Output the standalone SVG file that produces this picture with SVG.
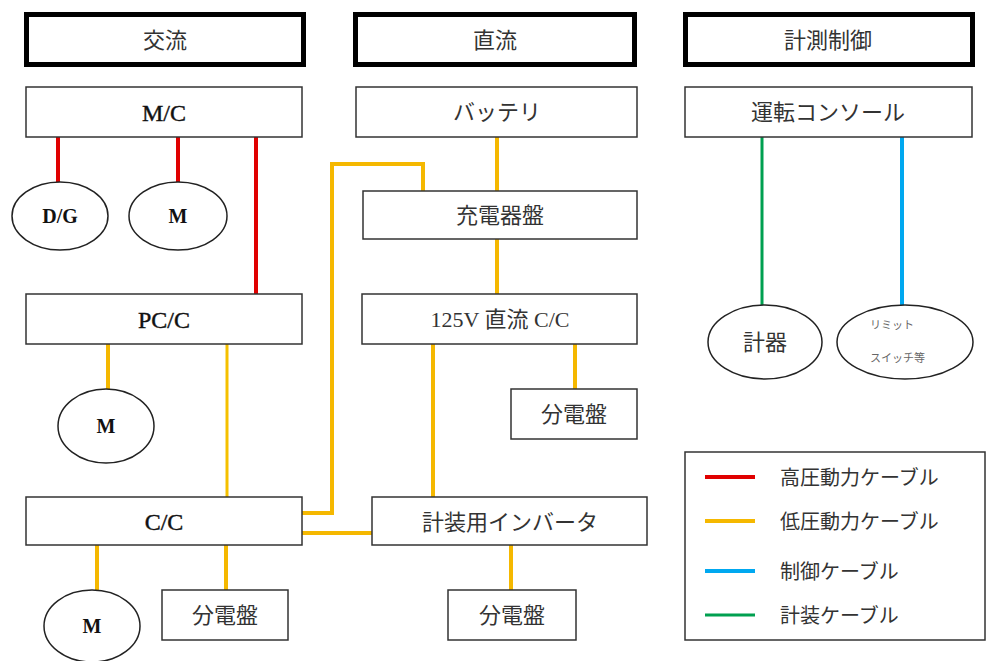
<svg xmlns="http://www.w3.org/2000/svg" width="987" height="661" viewBox="0 0 987 661">
<style>
.hdr{fill:#fff;stroke:#000;stroke-width:5}
.box{fill:#fff;stroke:#333;stroke-width:1.5}
.ell{fill:#fff;stroke:#222;stroke-width:1.5}
.t{font-family:"Liberation Serif","Noto Sans CJK JP",serif;fill:#333;text-anchor:middle;font-size:22px}
.e{font-family:"Liberation Serif",serif;fill:#111;stroke:#111;stroke-width:0.4;text-anchor:middle;font-size:24px}
.b{font-family:"Liberation Serif",serif;fill:#111;text-anchor:middle;font-weight:bold;font-size:20px}
.s{font-family:"Liberation Serif","Noto Sans CJK JP",serif;fill:#666;font-size:11px}
.lg{font-family:"Liberation Serif","Noto Sans CJK JP",serif;fill:#333;font-size:20px}
.r{stroke:#e00000;stroke-width:4;fill:none}
.y{stroke:#f5b800;stroke-width:4;fill:none}
.yt{stroke:#f5c000;stroke-width:3;fill:none}
.bl{stroke:#00a8f0;stroke-width:4;fill:none}
.g{stroke:#00a050;stroke-width:3;fill:none}
</style>
<rect width="987" height="661" fill="#fff"/>
<g id="connectors">
<line class="r" x1="58" y1="137" x2="58" y2="182"/>
<line class="r" x1="178" y1="137" x2="178" y2="182"/>
<line class="r" x1="256" y1="137" x2="256" y2="294"/>
<line class="y" x1="108" y1="344" x2="108" y2="389"/>
<line class="yt" x1="227" y1="344" x2="227" y2="497"/>
<line class="y" x1="97" y1="545" x2="97" y2="590"/>
<line class="y" x1="226" y1="545" x2="226" y2="590"/>
<polyline class="y" points="302,513 332,513 332,164 423,164 423,191"/>
<line class="y" x1="302" y1="533" x2="372" y2="533"/>
<line class="y" x1="497" y1="137" x2="497" y2="191"/>
<line class="y" x1="497" y1="239" x2="497" y2="294"/>
<line class="y" x1="433" y1="344" x2="433" y2="497"/>
<line class="y" x1="575" y1="344" x2="575" y2="389"/>
<line class="y" x1="511" y1="545" x2="511" y2="590"/>
<line class="g" x1="762" y1="137" x2="762" y2="305"/>
<line class="bl" x1="902" y1="137" x2="902" y2="305"/>
</g>
<g id="hdr-ac"><rect class="hdr" x="26.5" y="14.5" width="277" height="50"/><text class="t" x="165" y="48">交流</text></g>
<g id="hdr-dc"><rect class="hdr" x="355.5" y="14.5" width="279" height="50"/><text class="t" x="495" y="48">直流</text></g>
<g id="hdr-ctl"><rect class="hdr" x="685.5" y="14.5" width="287" height="50"/><text class="t" x="828" y="48">計測制御</text></g>
<g id="mc"><rect class="box" x="26" y="87" width="276" height="50"/><text class="e" x="164" y="121">M/C</text></g>
<g id="dg"><ellipse class="ell" cx="60" cy="216" rx="48" ry="34"/><text class="b" x="60" y="223">D/G</text></g>
<g id="m1"><ellipse class="ell" cx="178" cy="216" rx="49" ry="34"/><text class="b" x="178" y="223">M</text></g>
<g id="pcc"><rect class="box" x="26" y="294" width="276" height="50"/><text class="e" x="164" y="328">PC/C</text></g>
<g id="m2"><ellipse class="ell" cx="106" cy="426" rx="48" ry="37"/><text class="b" x="106" y="433">M</text></g>
<g id="cc"><rect class="box" x="26" y="497" width="276" height="48"/><text class="e" x="164" y="530">C/C</text></g>
<g id="m3"><ellipse class="ell" cx="92" cy="626" rx="48" ry="36"/><text class="b" x="92" y="633">M</text></g>
<g id="db1"><rect class="box" x="162" y="590" width="126" height="50"/><text class="t" x="225" y="623">分電盤</text></g>
<g id="battery"><rect class="box" x="356" y="87" width="281" height="50"/><text class="t" x="497" y="120">バッテリ</text></g>
<g id="charger"><rect class="box" x="363" y="191" width="274" height="48"/><text class="t" x="500" y="223">充電器盤</text></g>
<g id="dccc"><rect class="box" x="362" y="294" width="275" height="50"/><text class="t" x="500" y="327">125V 直流 C/C</text></g>
<g id="db2"><rect class="box" x="511" y="389" width="126" height="50"/><text class="t" x="574" y="422">分電盤</text></g>
<g id="inverter"><rect class="box" x="372" y="497" width="275" height="48"/><text class="t" x="510" y="530">計装用インバータ</text></g>
<g id="db3"><rect class="box" x="448" y="590" width="128" height="50"/><text class="t" x="512" y="623">分電盤</text></g>
<g id="console"><rect class="box" x="685" y="87" width="287" height="50"/><text class="t" x="828" y="120">運転コンソール</text></g>
<g id="meter"><ellipse class="ell" cx="765" cy="342" rx="57" ry="37"/><text class="t" x="765" y="350">計器</text></g>
<g id="limit"><ellipse class="ell" cx="905" cy="342" rx="68" ry="37"/><text class="s" x="870" y="329">リミット</text><text class="s" x="870" y="362">スイッチ等</text></g>
<g id="legend">
<rect class="box" x="685" y="452" width="300" height="188"/>
<line class="r" x1="705" y1="477" x2="755" y2="477"/>
<line class="y" x1="705" y1="521" x2="755" y2="521"/>
<line class="bl" x1="705" y1="571" x2="755" y2="571"/>
<line class="g" x1="705" y1="615" x2="755" y2="615" stroke-width="4"/>
<text class="lg" x="780" y="485">高圧動力ケーブル</text>
<text class="lg" x="780" y="529">低圧動力ケーブル</text>
<text class="lg" x="780" y="579">制御ケーブル</text>
<text class="lg" x="780" y="623">計装ケーブル</text>
</g>
</svg>
